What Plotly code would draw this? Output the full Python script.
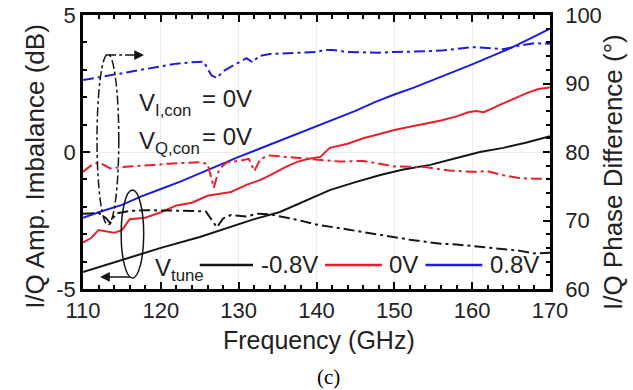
import plotly.graph_objects as go

# ---- amplitude imbalance (dB, left axis), solid lines ----
freq_amp_n08 = [110, 115, 120, 125, 129, 132, 135.3, 138, 141.7, 145, 148.2, 151, 154.6, 158, 161, 164, 167, 170]
amp_n08 = [-4.38, -3.95, -3.5, -3.1, -2.74, -2.45, -2.19, -1.85, -1.39, -1.1, -0.84, -0.65, -0.47, -0.22, 0.0, 0.15, 0.35, 0.58]

freq_amp_0 = [110, 111, 112, 113, 114, 115, 116, 118, 120, 122, 124, 126, 128, 129, 131, 132.8, 134, 136, 137.5,
              139, 140.5, 141.7, 144, 146, 148, 150, 152, 154, 156, 158, 159.5, 160.5, 161.5, 163, 165, 167, 168.5, 170]
amp_0 = [-3.3, -3.15, -2.85, -2.9, -2.95, -2.85, -2.45, -2.4, -2.2, -1.95, -1.85, -1.6, -1.5, -1.46, -1.2, -1.02, -0.85,
         -0.55, -0.36, -0.25, -0.18, 0.15, 0.3, 0.5, 0.65, 0.8, 0.92, 1.03, 1.15, 1.3, 1.45, 1.5, 1.45, 1.65, 1.9, 2.15, 2.3, 2.35]

freq_amp_p08 = [110, 112, 115, 117.5, 120, 122.5, 125, 127.5, 130, 132.5, 135, 137.5, 140, 142.5, 145, 147.5, 150,
                152.5, 155, 157.5, 160, 162.5, 165, 167.5, 170]
amp_p08 = [-2.4, -2.2, -1.93, -1.62, -1.35, -1.08, -0.78, -0.47, -0.18, 0.1, 0.38, 0.65, 0.93, 1.2, 1.5, 1.82, 2.1,
           2.35, 2.63, 2.9, 3.2, 3.5, 3.8, 4.15, 4.5]

# ---- phase difference (deg, right axis), dash-dot lines ----
freq_ph_n08 = [110, 112, 113, 113.5, 114.2, 116, 118, 120, 122, 124, 125.8, 126.5, 127.2, 128, 129, 131, 132.5, 134,
               136, 137.5, 140, 142, 144, 146, 148, 150, 152, 154, 156, 158, 160, 162, 164, 166, 168, 170]
ph_n08 = [71.0, 71.1, 70.3, 69.6, 71.0, 71.4, 71.5, 71.5, 71.5, 71.4, 71.3, 70.2, 69.0, 70.3, 70.8, 70.6, 71.0, 70.9,
          70.5, 70.1, 69.4, 69.1, 68.7, 68.3, 67.9, 67.5, 67.2, 66.9, 66.6, 66.5, 66.3, 66.1, 65.9, 65.6, 65.2, 65.3]

freq_ph_0 = [110, 111, 112, 113.5, 115, 117, 119, 121, 123, 125, 126, 126.8, 127.5, 128.5, 130, 131.3, 132, 132.8,
             134, 136, 140, 143, 146, 150, 154, 157, 160, 162, 164, 166, 168, 170]
ph_0 = [77.1, 78.0, 78.5, 77.6, 77.8, 77.9, 78.1, 78.3, 78.4, 78.5, 78.3, 74.8, 77.5, 78.5, 78.7, 79.0, 77.2, 79.0,
        79.5, 79.3, 79.0, 78.6, 78.7, 77.9, 77.8, 77.3, 77.1, 77.2, 76.6, 76.2, 76.1, 76.1]

freq_ph_p08 = [110, 112, 114, 116, 118, 120, 122, 124, 125.5, 126.5, 127.2, 128, 129.5, 131, 131.8, 132.6, 134, 136,
               138, 140, 141, 142, 144, 146, 148, 150, 152, 154, 156, 158, 160, 162, 164, 166, 168, 170]
ph_p08 = [90.5, 90.9, 91.2, 91.6, 92.1, 92.5, 92.9, 93.1, 93.2, 91.2, 90.8, 91.8, 92.8, 93.7, 93.1, 94.0, 94.3, 94.4,
          94.5, 94.6, 94.9, 94.9, 94.6, 94.5, 94.5, 94.6, 94.6, 94.7, 94.8, 95.0, 95.3, 95.2, 95.0, 95.5, 95.9, 95.8]

# ---- axis ticks ----
freq_ticks = [110, 120, 130, 140, 150, 160, 170]
amp_ticks = [-5, 0, 5]
amp_tick_text = ["-5", "0", "5"]
phase_ticks = [60, 70, 80, 90, 100]

BLACK = "#151515"
RED = "#e8202c"
BLUE = "#1c1ce0"
FONT = "Liberation Sans, Arial, sans-serif"
DASHDOT = "11px,4px,3px,4px"

fig = go.Figure()

for f, v, c in [(freq_amp_n08, amp_n08, BLACK), (freq_amp_0, amp_0, RED), (freq_amp_p08, amp_p08, BLUE)]:
    fig.add_trace(go.Scatter(x=f, y=v, mode="lines", line=dict(color=c, width=2), showlegend=False))

for f, v, c in [(freq_ph_n08, ph_n08, BLACK), (freq_ph_0, ph_0, RED), (freq_ph_p08, ph_p08, BLUE)]:
    fig.add_trace(go.Scatter(x=f, y=v, mode="lines", yaxis="y2",
                             line=dict(color=c, width=2, dash=DASHDOT), showlegend=False))

axis_common = dict(
    showline=True, linecolor="black", linewidth=2.5, automargin=False,
    ticks="inside", ticklen=7, tickwidth=1.5, tickcolor="black",
    tickfont=dict(family=FONT, size=22, color="#222"),
)

fig.update_layout(
    width=633, height=390,
    margin=dict(l=83, r=83, t=15, b=101, autoexpand=False),
    paper_bgcolor="white", plot_bgcolor="white",
    font=dict(family=FONT, color="#222"),
    xaxis=dict(range=[110, 170], tickvals=freq_ticks, mirror="ticks",
               showgrid=True, gridcolor="#ececec", gridwidth=1, zeroline=False,
               minor=dict(dtick=2, ticks="inside", ticklen=4, tickcolor="black", showgrid=False),
               **axis_common),
    yaxis=dict(range=[-5, 5], tickvals=amp_ticks, ticktext=amp_tick_text, mirror=False,
               showgrid=True, gridcolor="#ececec", gridwidth=1, zeroline=False,
               minor=dict(dtick=1, ticks="inside", ticklen=4, tickcolor="black", showgrid=False),
               **axis_common),
    yaxis2=dict(range=[60, 100], tickvals=phase_ticks, overlaying="y", side="right",
                showgrid=False, zeroline=False, ticklabelstandoff=8,
                minor=dict(dtick=2, ticks="inside", ticklen=4, tickcolor="black", showgrid=False),
                **axis_common),
)

# axis titles
title_font = dict(family=FONT, size=25, color="#222")
fig.add_annotation(text="Frequency (GHz)", xref="paper", yref="paper", x=0.506, y=-0.187,
                   showarrow=False, font=title_font, xanchor="center", yanchor="middle")
fig.add_annotation(text="I/Q Amp. Imbalance (dB)", xref="paper", yref="paper", x=-0.103, y=0.449,
                   textangle=-90, showarrow=False, font=dict(family=FONT, size=26, color="#222"),
                   xanchor="center", yanchor="middle")
fig.add_annotation(text="I/Q Phase Difference (°)", xref="paper", yref="paper", x=1.135, y=0.427,
                   textangle=-90, showarrow=False, font=dict(family=FONT, size=26, color="#222"),
                   xanchor="center", yanchor="middle")
fig.add_annotation(text="(c)", xref="paper", yref="paper", x=0.525, y=-0.321, showarrow=False,
                   xanchor="center", yanchor="middle",
                   font=dict(family="Liberation Serif, Times New Roman, serif", size=21, color="black"))

# bias condition labels
lab_font = dict(family=FONT, size=24, color="#222")
fig.add_annotation(text="V<sub>I,con</sub>", x=116.9, y=1.97, xref="x", yref="y", showarrow=False,
                   xanchor="left", yanchor="middle", yshift=-6, font=lab_font)
fig.add_annotation(text="= 0V", x=125.0, y=1.97, xref="x", yref="y", showarrow=False,
                   xanchor="left", yanchor="middle", font=lab_font)
fig.add_annotation(text="V<sub>Q,con</sub>", x=116.9, y=0.55, xref="x", yref="y", showarrow=False,
                   xanchor="left", yanchor="middle", yshift=-6, font=lab_font)
fig.add_annotation(text="= 0V", x=125.0, y=0.55, xref="x", yref="y", showarrow=False,
                   xanchor="left", yanchor="middle", font=lab_font)

# ellipses marking which curves belong to which axis
fig.add_shape(type="circle", xref="x", yref="y", x0=111.8, x1=114.6, y0=-2.66, y1=3.58,
              line=dict(color=BLACK, width=1.5, dash="dashdot"))
fig.add_shape(type="line", xref="x", yref="y", x0=113.1, x1=116.3, y0=3.54, y1=3.54,
              line=dict(color=BLACK, width=1.5, dash="dashdot"))
fig.add_annotation(x=117.84, y=3.54, ax=116.1, ay=3.54, xref="x", yref="y", axref="x", ayref="y",
                   text="", showarrow=True, arrowhead=2, arrowsize=1.3, arrowwidth=1.5, arrowcolor=BLACK)

fig.add_shape(type="circle", xref="x", yref="y", x0=114.9, x1=117.8, y0=-4.6, y1=-1.39,
              line=dict(color=BLACK, width=1.5))
fig.add_annotation(x=112.19, y=-4.56, ax=116.3, ay=-4.56, xref="x", yref="y", axref="x", ayref="y",
                   text="", showarrow=True, arrowhead=2, arrowsize=1.3, arrowwidth=1.5, arrowcolor=BLACK)

# in-plot key for the tuning voltage
key_y = -4.12
fig.add_annotation(text="V<sub>tune</sub>", x=119.0, y=key_y, xref="x", yref="y", showarrow=False,
                   xanchor="left", yanchor="middle", yshift=-5, font=lab_font)
key_items = [(125.0, 131.85, BLACK, "-0.8V"), (141.1, 148.4, RED, "0V"), (154.0, 161.3, BLUE, "0.8V")]
for x0, x1, c, label in key_items:
    fig.add_shape(type="line", xref="x", yref="y", x0=x0, x1=x1, y0=key_y, y1=key_y,
                  line=dict(color=c, width=2.5))
    fig.add_annotation(text=label, x=x1 + 0.7, y=key_y, xref="x", yref="y", showarrow=False,
                       xanchor="left", yanchor="middle", font=lab_font)

fig.write_html("out.html")
